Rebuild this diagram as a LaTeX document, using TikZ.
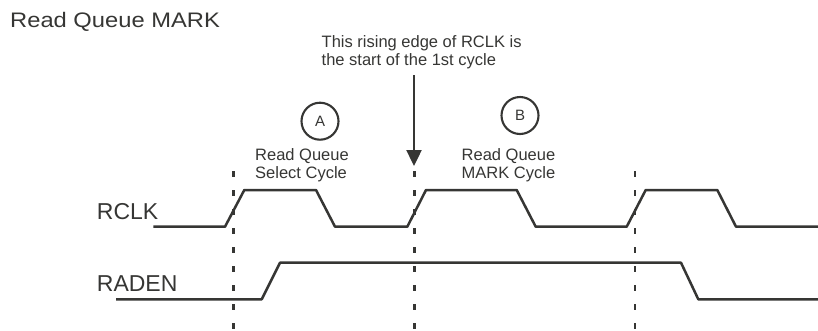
\documentclass[tikz,border=0pt]{standalone}
\usepackage{fontspec}
\setmainfont{Liberation Sans}
\newfontfamily\titlefont{Liberation Sans}[FakeStretch=1.13]
\usetikzlibrary{arrows.meta}
\definecolor{ink}{HTML}{363634}
\tikzset{
  wave/.style={draw=ink, line width=2.5pt, line join=round},
  guide/.style={draw=ink, line width=2.7pt, dash pattern=on 6pt off 13pt},
  label/.style={inner sep=0pt, text=ink, anchor=base west},
  note/.style={inner sep=0pt, text=ink, anchor=base west, align=left, font=\fontsize{16.5}{18}\selectfont},
  sig/.style={inner sep=0pt, text=ink, anchor=base west, font=\fontsize{23}{26}\selectfont},
  tag/.style={circle, draw=ink, line width=2.1pt, minimum size=37pt, inner sep=0pt, text=ink, font=\fontsize{15}{17}\selectfont},
  pointer/.style={draw=ink, line width=2.4pt, -{Triangle[width=15pt,length=16pt]}}
}
\begin{document}
\begin{tikzpicture}[x=1pt,y=-1pt]
\useasboundingbox (0,0) rectangle (818,330);
% title
\node[label, font=\titlefont\fontsize{21}{25}\selectfont] (title) at (10,27.7) {Read Queue MARK};
% annotation (anchor = baseline of last line)
\node[note] (edgenote) at (321.5,65.3) {This rising edge of RCLK is\\the start of the 1st cycle};
\coordinate (arrowstart) at (414,75);
\coordinate (arrowtip) at (414,166);
\draw[pointer] (arrowstart) -- (arrowtip);
% cycle tags
\node[tag] (tagA) at (320,121.2) {A};
\node[tag] (tagB) at (520,115.5) {B};
\node[note] (selnote) at (255,178.5) {Read Queue\\Select Cycle};
\node[note] (marknote) at (461.5,178.5) {Read Queue\\MARK Cycle};
% signal names
\node[sig] (rclk) at (96.7,219) {RCLK};
\node[sig] (raden) at (96.7,291) {RADEN};
% dashed guides
\draw[guide] (233.5,171) -- (233.5,330);
\draw[guide] (414.3,171) -- (414.3,330);
\draw[guide] (635,171) -- (635,330);
% RCLK waveform
\draw[wave] (153.3,226.7) -- (225,226.7) -- (244.3,190) -- (316,190) -- (335,226.7)
  -- (407.3,226.7) -- (426,190) -- (516.7,190) -- (535.7,226.7)
  -- (626.7,226.7) -- (645.7,190) -- (717.3,190) -- (736,226.7) -- (818,226.7);
% RADEN waveform
\draw[wave] (116,299.3) -- (261.7,299.3) -- (280,262.7) -- (681,262.7) -- (698.3,299.3) -- (818,299.3);
\end{tikzpicture}
\end{document}
